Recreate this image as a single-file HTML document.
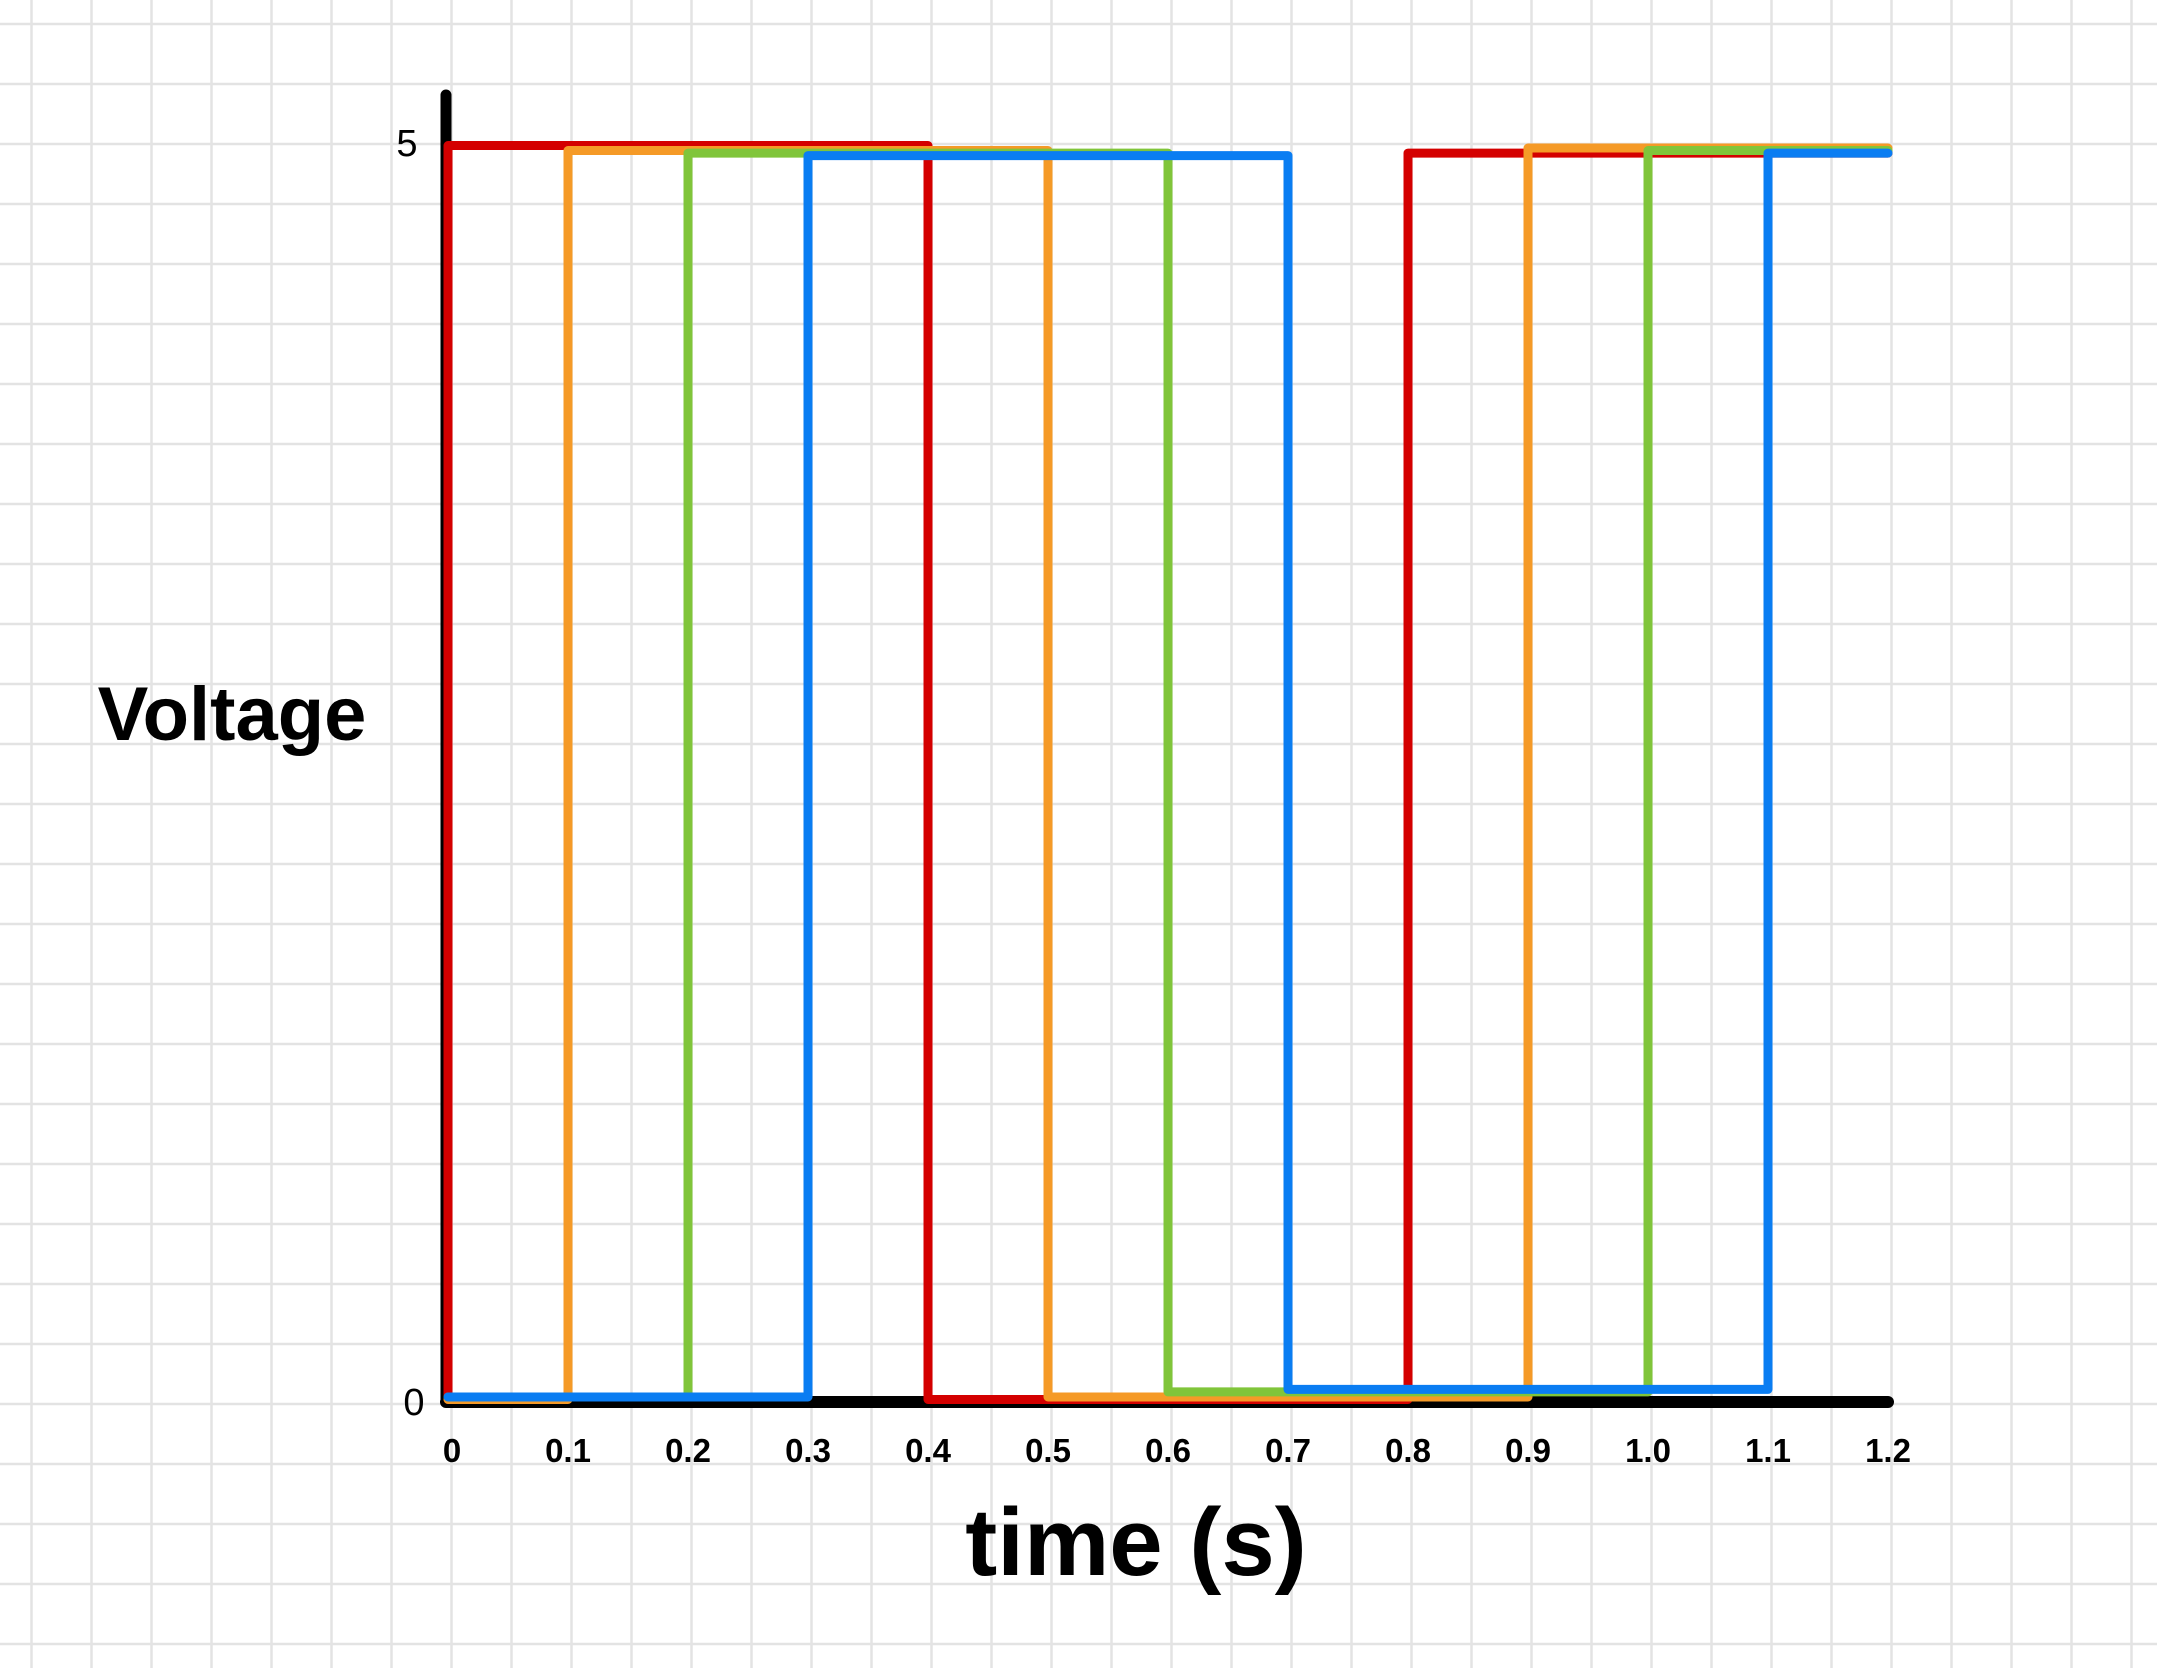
<!DOCTYPE html>
<html><head><meta charset="utf-8"><style>
body{margin:0;background:#fff}
svg{display:block}
text{font-family:"Liberation Sans",sans-serif;fill:#000}
</style></head><body>
<svg id="c" width="2157" height="1668">
<g id="grid"></g>
<g id="axes"></g>
<g id="series"></g>
<g id="labels"></g>
</svg>
<script>
// segment boundaries (s) and voltage levels per series
const redT=[0,0,0.4,0.8,1.2];
const redV=[0.01,4.99,0.01,4.96];
const orangeT=[0,0.1,0.5,0.9,1.2];
const orangeV=[0.01,4.97,0.02,4.98];
const greenT=[0,0.2,0.6,1.0,1.2];
const greenV=[0.02,4.96,0.04,4.97];
const blueT=[0,0.3,0.7,1.1,1.2];
const blueV=[0.02,4.95,0.05,4.96];
const xTicks=[0,0.1,0.2,0.3,0.4,0.5,0.6,0.7,0.8,0.9,1.0,1.1,1.2];
const xTickLabels=["0","0.1","0.2","0.3","0.4","0.5","0.6","0.7","0.8","0.9","1.0","1.1","1.2"];
const yTicks=[0,5];
const yTickLabels=["0","5"];

const NS="http://www.w3.org/2000/svg";
const X=t=>448+1200*t;
const Y=v=>1402-251.8*v;
function mk(tag,attrs,parent){const e=document.createElementNS(NS,tag);for(const k in attrs)e.setAttribute(k,attrs[k]);parent.appendChild(e);return e;}
const grid=document.getElementById('grid'),axes=document.getElementById('axes'),ser=document.getElementById('series'),lab=document.getElementById('labels');
for(let x=31.5;x<2157;x+=60){const l=mk('line',{x1:x,y1:0,x2:x,y2:1668,stroke:'#e3e3e3','stroke-width':2.5},grid);

}
for(let y=24;y<1668;y+=60){const l=mk('line',{x1:0,y1:y,x2:2157,y2:y,stroke:'#e3e3e3','stroke-width':2.5},grid);

}
const ya=mk('line',{x1:446,y1:95,x2:446,y2:1402,stroke:'#000','stroke-width':11,'stroke-linecap':'round'},axes);


const xa=mk('line',{x1:446,y1:1402,x2:X(1.2),y2:1402,stroke:'#000','stroke-width':12,'stroke-linecap':'round'},axes);


function step(T,V){let d='';for(let i=0;i<V.length;i++){const y=Y(V[i]);d+=(i===0?'M':'L')+X(T[i])+' '+y+' L'+X(T[i+1])+' '+y+' ';}return d;}
const all=[['red',redT,redV,'#d40000'],['orange',orangeT,orangeV,'#f59a27'],['green',greenT,greenV,'#80c53a'],['blue',blueT,blueV,'#0a7df2']];
for(const [n,T,V,c] of all){const p=mk('path',{d:step(T,V),fill:'none',stroke:c,'stroke-width':9,'stroke-linejoin':'round','stroke-linecap':'round'},ser);

}
xTicks.forEach((t,i)=>{const e=mk('text',{x:X(t)+(i===0?4:0),y:1462,'font-size':33,'text-anchor':'middle','font-weight':'bold'},lab);e.textContent=xTickLabels[i];

});
yTicks.forEach((v,i)=>{const e=mk('text',{x:i===0?414:407,y:Y(v)+13,'font-size':38,'text-anchor':'middle'},lab);e.textContent=yTickLabels[i];

});
const yt=mk('text',{x:232,y:740,'font-size':76,'font-weight':'bold','text-anchor':'middle'},lab);yt.textContent='Voltage';


const xt=mk('text',{x:1136,y:1575,'font-size':96,'font-weight':'bold','text-anchor':'middle'},lab);xt.textContent='time (s)';


</script>
</body></html>
